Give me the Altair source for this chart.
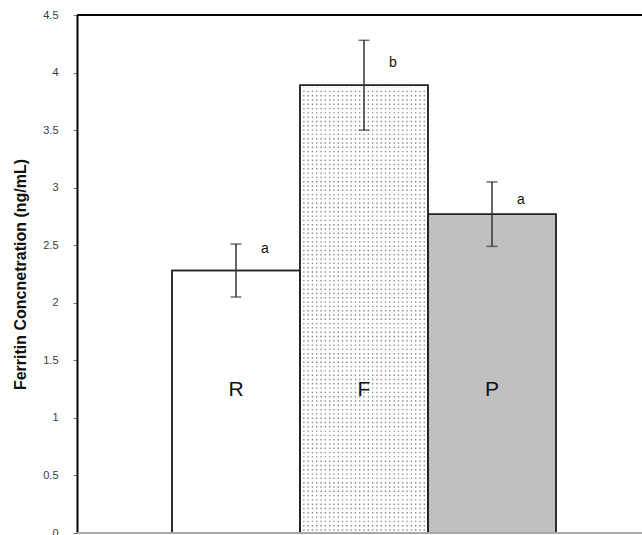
import altair as alt
import pandas as pd

groups = ["R", "F", "P"]
means = [2.28, 3.89, 2.77]
err_lo = [2.05, 3.50, 2.49]
err_hi = [2.51, 4.28, 3.05]
letters = ["a", "b", "a"]
letter_y = [2.47, 4.08, 2.89]
fills = ["#ffffff", "#ffffff", "#c0c0c0"]
label_y = 1.24

df = pd.DataFrame({
    "group": groups, "mean": means, "lo": err_lo, "hi": err_hi,
    "letter": letters, "ly": letter_y, "fill": fills,
})
df["label_y"] = label_y

OUTER = 0.742
yscale = alt.Scale(domain=[0, 4.5], nice=False, zero=True)
xscale = alt.Scale(type="band", range=[0, 574], paddingInner=0, paddingOuter=OUTER)
xenc = alt.X("group:N", sort=groups, scale=xscale, axis=None)

base = alt.Chart(df)

bars = base.mark_bar(stroke="#222222", strokeWidth=1.5).encode(
    x=xenc,
    y=alt.Y("mean:Q", scale=yscale,
            axis=alt.Axis(title="Ferritin Concnetration (ng/mL)",
                          values=[0, 0.5, 1, 1.5, 2, 2.5, 3, 3.5, 4, 4.5],
                          format="~g", grid=False,
                          domainColor="#000000", domainWidth=2,
                          tickColor="#777777", tickSize=4, tickWidth=1,
                          labelFont="Liberation Sans", labelFontSize=11,
                          labelColor="#3a3a3a", labelPadding=15,
                          titleFont="Liberation Sans", titleFontSize=16,
                          titleFontWeight="bold", titleColor="#111111",
                          titlePadding=14)),
    fill=alt.Fill("fill:N", scale=None),
)

# dotted texture for the F bar (vertical dashed rules -> dot grid)
fi = groups.index("F")
fmean = means[fi]
f_left = OUTER + fi
dots = alt.Chart(alt.sequence(f_left + 0.03, f_left + 1.0, 0.0336, as_="t")).mark_rule(
    color="#8a8a8a", strokeWidth=1.4, strokeDash=[1.4, 2.9]
).encode(
    x=alt.X("t:Q", scale=alt.Scale(domain=[0, 3 + 2 * OUTER], range=[0, 574], nice=False, zero=False),
            axis=None),
    y=alt.datum(0.02, scale=yscale),
    y2=alt.datum(fmean - 0.02),
)

bars_outline = base.mark_bar(fill=None, stroke="#222222", strokeWidth=1.5).encode(
    x=xenc, y=alt.Y("mean:Q", scale=yscale))

err = base.mark_rule(color="#333333", strokeWidth=1.5).encode(
    x=xenc, y=alt.Y("lo:Q", scale=yscale), y2="hi:Q")
cap_lo = base.mark_tick(color="#333333", thickness=1.5, size=11, orient="horizontal").encode(
    x=xenc, y=alt.Y("lo:Q", scale=yscale))
cap_hi = base.mark_tick(color="#333333", thickness=1.5, size=11, orient="horizontal").encode(
    x=xenc, y=alt.Y("hi:Q", scale=yscale))

letter_txt = base.mark_text(dx=29, fontSize=14, font="Liberation Sans", color="#111111").encode(
    x=xenc, y=alt.Y("ly:Q", scale=yscale), text="letter:N")

bar_lbl = base.mark_text(fontSize=21, font="Liberation Sans", color="#111111").encode(
    x=xenc, y=alt.Y("label_y:Q", scale=yscale), text="group:N")

top_line = alt.Chart(df).mark_rule(color="#000000", strokeWidth=2).encode(
    y=alt.datum(4.5, scale=yscale))
bottom_line = alt.Chart(df).mark_rule(color="#aaaaaa", strokeWidth=1.5).encode(
    y=alt.datum(0, scale=yscale))

chart = alt.layer(
    bars, dots, bars_outline, bottom_line, top_line, err, cap_lo, cap_hi, letter_txt, bar_lbl
).resolve_scale(x="independent").properties(
    width=565, height=518,
    autosize=alt.AutoSizeParams(type="none"),
    padding={"left": 77, "top": 15, "right": 0, "bottom": 2},
).configure_view(stroke=None)

chart.save("out.html", embed_options={"renderer": "svg", "actions": False})
